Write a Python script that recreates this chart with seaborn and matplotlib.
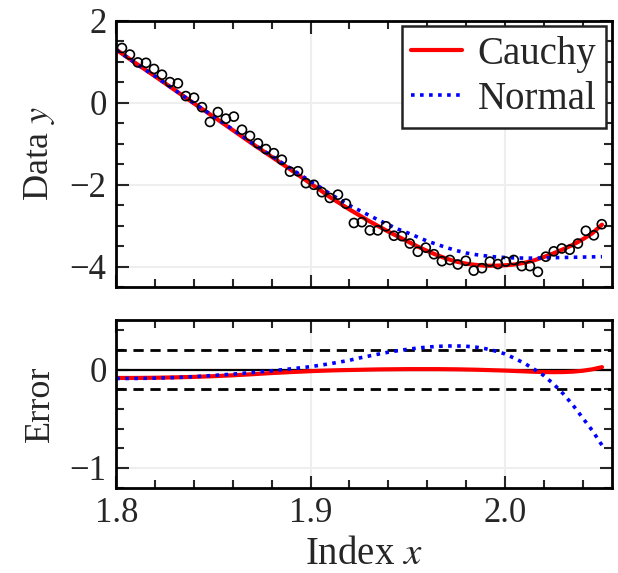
import matplotlib
matplotlib.use("Agg")
import matplotlib.pyplot as plt
from matplotlib.ticker import MultipleLocator, FormatStrFormatter
import seaborn as sns

# measured data points
x_data = [1.8029, 1.8070, 1.8111, 1.8153, 1.8194, 1.8235, 1.8276, 1.8317, 1.8358, 1.8400,
          1.8441, 1.8482, 1.8523, 1.8564, 1.8605, 1.8647, 1.8688, 1.8729, 1.8770, 1.8811,
          1.8852, 1.8894, 1.8935, 1.8976, 1.9017, 1.9058, 1.9099, 1.9141, 1.9182, 1.9223,
          1.9264, 1.9305, 1.9346, 1.9388, 1.9429, 1.9470, 1.9511, 1.9552, 1.9593, 1.9635,
          1.9676, 1.9717, 1.9758, 1.9799, 1.9840, 1.9882, 1.9923, 1.9964, 2.0005, 2.0046,
          2.0087, 2.0129, 2.0170, 2.0211, 2.0252, 2.0293, 2.0334, 2.0376, 2.0417, 2.0458,
          2.0499]
y_data = [1.33, 1.17, 0.98, 0.97, 0.82, 0.68, 0.50, 0.47, 0.16, 0.12,
          -0.11, -0.47, -0.23, -0.39, -0.34, -0.66, -0.81, -0.99, -1.13, -1.23,
          -1.39, -1.68, -1.67, -1.96, -2.00, -2.18, -2.32, -2.24, -2.46, -2.93,
          -2.91, -3.11, -3.11, -3.01, -3.24, -3.25, -3.43, -3.63, -3.53, -3.69,
          -3.86, -3.83, -3.94, -3.85, -4.09, -4.03, -3.87, -3.93, -3.87, -3.83,
          -3.98, -3.98, -4.12, -3.75, -3.62, -3.55, -3.58, -3.43, -3.12, -3.23,
          -2.96]

# fitted curves
x_fit = [1.80, 1.81, 1.82, 1.83, 1.84, 1.85, 1.86, 1.87, 1.88, 1.89, 1.90,
         1.905, 1.91, 1.915, 1.92, 1.925, 1.93, 1.935, 1.94, 1.945, 1.95,
         1.955, 1.96, 1.965, 1.97, 1.975, 1.98, 1.985, 1.99, 1.995, 2.00,
         2.005, 2.01, 2.015, 2.02, 2.025, 2.03, 2.035, 2.04, 2.045, 2.05]
y_cauchy = [1.29, 0.96, 0.64, 0.31, -0.02, -0.34, -0.67, -1.00, -1.32, -1.64, -1.97,
            -2.13, -2.30, -2.45, -2.60, -2.74, -2.88, -3.01, -3.14, -3.26, -3.38,
            -3.50, -3.61, -3.71, -3.80, -3.87, -3.92, -3.95, -3.97, -3.97, -3.96,
            -3.94, -3.90, -3.84, -3.76, -3.67, -3.57, -3.46, -3.33, -3.18, -2.97]
y_normal = [1.285, 0.955, 0.64, 0.31, -0.015, -0.33, -0.655, -0.985, -1.30, -1.61, -1.92,
            -2.06, -2.22, -2.36, -2.50, -2.62, -2.74, -2.86, -2.97, -3.08, -3.17,
            -3.27, -3.37, -3.45, -3.53, -3.60, -3.66, -3.70, -3.73, -3.755, -3.77,
            -3.78, -3.785, -3.785, -3.78, -3.775, -3.77, -3.765, -3.76, -3.755, -3.75]
err_cauchy = [-0.085, -0.085, -0.083, -0.079, -0.074, -0.067, -0.058, -0.047, -0.035, -0.025, -0.016,
              -0.012, -0.009, -0.006, -0.004, -0.002, 0.0, 0.002, 0.003, 0.004, 0.005,
              0.005, 0.005, 0.005, 0.004, 0.003, 0.001, -0.001, -0.004, -0.007, -0.010,
              -0.014, -0.018, -0.022, -0.025, -0.026, -0.025, -0.021, -0.012, 0.003, 0.025]
err_normal = [-0.09, -0.09, -0.087, -0.081, -0.072, -0.06, -0.046, -0.03, -0.012, 0.008, 0.03,
              0.045, 0.06, 0.077, 0.095, 0.118, 0.138, 0.158, 0.177, 0.193, 0.207,
              0.219, 0.229, 0.236, 0.240, 0.241, 0.238, 0.229, 0.213, 0.19, 0.16,
              0.115, 0.065, 0.005, -0.06, -0.145, -0.245, -0.36, -0.49, -0.62, -0.77]

sns.set_theme(style="ticks")
plt.rcParams["font.family"] = ["Liberation Serif", "DejaVu Serif"]
plt.rcParams["mathtext.fontset"] = "stix"
plt.rcParams["font.size"] = 25
plt.rcParams["axes.labelsize"] = 26
plt.rcParams["xtick.labelsize"] = 25
plt.rcParams["ytick.labelsize"] = 25
plt.rcParams["legend.fontsize"] = 28

fig = plt.figure(figsize=(6.18, 5.73), dpi=100)
ax1 = fig.add_axes([0.1882, 0.4983, 0.8016, 0.4659])
ax2 = fig.add_axes([0.1882, 0.1492, 0.8016, 0.2915], sharex=ax1)

dotted = (0, (1, 1.5))

# top panel
sns.lineplot(x=x_fit, y=y_cauchy, ax=ax1, color="red", lw=3, label="Cauchy")
sns.lineplot(x=x_fit, y=y_normal, ax=ax1, color="blue", lw=2.6, linestyle=dotted, label="Normal")
sns.scatterplot(x=x_data, y=y_data, ax=ax1, s=42, marker="o", facecolors="none",
                edgecolor="black", linewidth=1.2, zorder=3)

# bottom panel
ax2.axhline(0, color="black", lw=1.6, zorder=1)
ax2.axhline(0.2, color="black", lw=2, linestyle=(0, (3.7, 2.4)), zorder=1)
ax2.axhline(-0.2, color="black", lw=2, linestyle=(0, (3.7, 2.4)), zorder=1)
sns.lineplot(x=x_fit, y=err_cauchy, ax=ax2, color="red", lw=3)
sns.lineplot(x=x_fit, y=err_normal, ax=ax2, color="blue", lw=2.6, linestyle=dotted)

ax1.set_xlim(1.8, 2.055)
ax1.set_ylim(-4.5, 2)
ax2.set_ylim(-1.2, 0.5)

ax1.yaxis.set_major_locator(MultipleLocator(2))
ax1.yaxis.set_minor_locator(MultipleLocator(0.5))
ax2.yaxis.set_major_locator(MultipleLocator(1))
ax2.yaxis.set_minor_locator(MultipleLocator(0.2))
ax2.xaxis.set_major_locator(MultipleLocator(0.1))
ax2.xaxis.set_minor_locator(MultipleLocator(0.02))

for ax in (ax1, ax2):
    ax.grid(True, which="major", color="#eeeeee", lw=1.5)
    ax.set_axisbelow(True)
    ax.tick_params(which="both", direction="in", top=True, right=True, width=1.5, pad=7)
    ax.tick_params(which="major", length=9)
    ax.tick_params(which="minor", length=5.5)
    for s in ax.spines.values():
        s.set_linewidth(2)
        s.set_color("black")
ax1.tick_params(labelbottom=False)
ax2.xaxis.set_major_formatter(FormatStrFormatter("%.1f"))

ax1.set_ylabel("Data $y$", labelpad=9)
ax2.set_ylabel("Error", labelpad=9)
ax2.set_xlabel("Index $x$", labelpad=4, fontsize=28)
ax1.set_xlabel("")
fig.align_ylabels([ax1, ax2])

leg = ax1.legend(loc="upper right", fancybox=False, framealpha=1, edgecolor="#222222",
                 handlelength=1.3, handletextpad=0.4, borderpad=0.25,
                 labelspacing=0.2, borderaxespad=0.15)
leg.get_frame().set_linewidth(1.8)

fig.savefig("out.png", dpi=100)
plt.close()
